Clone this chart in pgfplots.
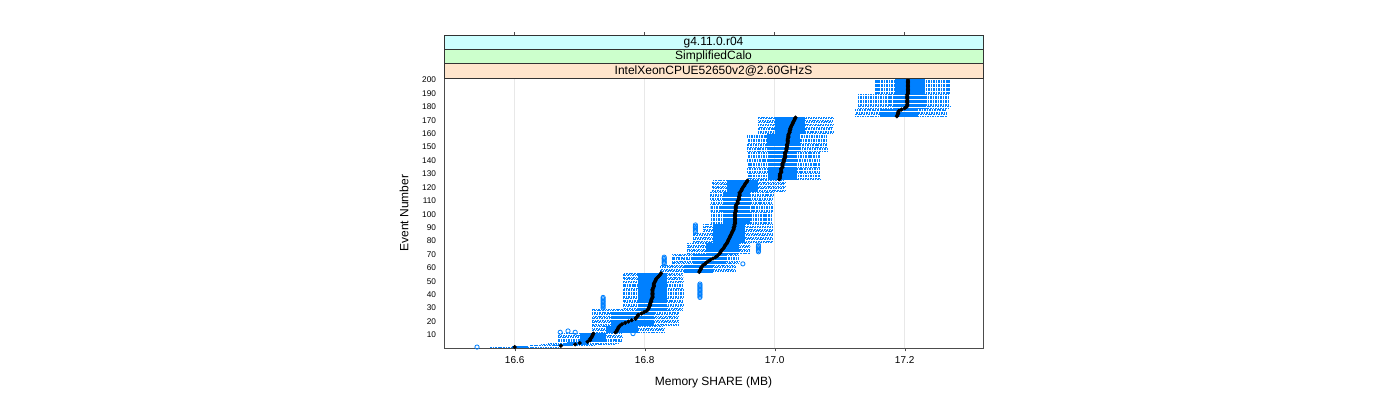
\documentclass[border=0pt]{standalone}
\usepackage{pgfplots}
\usepackage{pgfplotstable}
\pgfplotsset{compat=1.18}
\usepackage{fontspec}
\setmainfont{Liberation Sans}

\definecolor{lblue}{HTML}{0080FF}
\definecolor{stripA}{HTML}{CCFFFF}
\definecolor{stripB}{HTML}{CCFFCC}
\definecolor{stripC}{HTML}{FFE5CC}

% per event: lower whisker, lower hinge, median, upper hinge, upper whisker (MB)
\pgfplotstableread{
ev lo q1 med q3 hi
1 16.562 16.596 16.600 16.620 16.667
2 16.624 16.658 16.671 16.690 16.725
3 16.640 16.672 16.693 16.712 16.755
4 16.650 16.680 16.700 16.715 16.760
5 16.667 16.700 16.712 16.740 16.765
6 16.667 16.700 16.716 16.740 16.765
7 16.667 16.700 16.716 16.740 16.765
8 16.667 16.700 16.718 16.740 16.765
9 16.667 16.700 16.719 16.740 16.765
10 16.667 16.700 16.720 16.740 16.765
11 16.667 16.700 16.721 16.740 16.765
12 16.719 16.740 16.755 16.790 16.830
13 16.719 16.740 16.757 16.790 16.830
14 16.719 16.740 16.758 16.790 16.830
15 16.719 16.740 16.759 16.790 16.830
16 16.719 16.740 16.760 16.790 16.830
17 16.719 16.748 16.762 16.815 16.852
18 16.719 16.748 16.765 16.815 16.852
19 16.719 16.748 16.770 16.815 16.852
20 16.719 16.748 16.775 16.815 16.852
21 16.719 16.748 16.780 16.815 16.852
22 16.719 16.748 16.786 16.815 16.852
23 16.719 16.748 16.787 16.815 16.852
24 16.719 16.748 16.789 16.815 16.852
25 16.719 16.748 16.790 16.815 16.852
26 16.719 16.748 16.795 16.815 16.852
27 16.719 16.748 16.799 16.815 16.852
28 16.719 16.790 16.803 16.835 16.859
29 16.719 16.790 16.805 16.835 16.859
30 16.767 16.790 16.806 16.835 16.859
31 16.767 16.790 16.807 16.835 16.859
32 16.767 16.790 16.808 16.835 16.859
33 16.767 16.790 16.808 16.835 16.859
34 16.767 16.790 16.809 16.835 16.859
35 16.767 16.790 16.810 16.835 16.859
36 16.767 16.790 16.810 16.835 16.859
37 16.767 16.790 16.811 16.835 16.859
38 16.767 16.790 16.812 16.835 16.859
39 16.767 16.790 16.812 16.835 16.859
40 16.767 16.790 16.812 16.835 16.859
41 16.767 16.790 16.812 16.835 16.859
42 16.767 16.790 16.812 16.835 16.859
43 16.767 16.790 16.812 16.835 16.859
44 16.767 16.790 16.812 16.835 16.859
45 16.767 16.790 16.813 16.835 16.859
46 16.767 16.790 16.814 16.835 16.859
47 16.767 16.790 16.814 16.835 16.859
48 16.767 16.790 16.814 16.835 16.859
49 16.767 16.790 16.815 16.835 16.859
50 16.767 16.790 16.816 16.835 16.859
51 16.767 16.790 16.817 16.835 16.859
52 16.767 16.790 16.818 16.835 16.859
53 16.767 16.790 16.820 16.835 16.859
54 16.767 16.790 16.822 16.835 16.859
55 16.767 16.790 16.824 16.835 16.859
56 16.767 16.790 16.825 16.835 16.859
57 16.824 16.860 16.884 16.905 16.940
58 16.824 16.860 16.885 16.905 16.940
59 16.824 16.860 16.886 16.905 16.940
60 16.824 16.860 16.887 16.905 16.940
61 16.824 16.860 16.888 16.905 16.940
62 16.824 16.860 16.890 16.905 16.940
63 16.842 16.875 16.893 16.925 16.945
64 16.842 16.875 16.895 16.925 16.945
65 16.842 16.875 16.898 16.925 16.945
66 16.842 16.875 16.901 16.925 16.945
67 16.842 16.875 16.905 16.925 16.945
68 16.842 16.875 16.909 16.925 16.945
69 16.842 16.875 16.912 16.925 16.945
70 16.842 16.875 16.914 16.925 16.945
71 16.865 16.895 16.916 16.945 16.962
72 16.865 16.895 16.917 16.945 16.962
73 16.865 16.895 16.918 16.945 16.962
74 16.865 16.895 16.920 16.945 16.962
75 16.865 16.895 16.922 16.945 16.962
76 16.865 16.895 16.923 16.945 16.962
77 16.865 16.895 16.924 16.945 16.962
78 16.865 16.895 16.926 16.945 16.962
79 16.874 16.905 16.927 16.955 16.997
80 16.874 16.905 16.928 16.955 16.997
81 16.874 16.905 16.929 16.955 16.997
82 16.874 16.905 16.930 16.955 16.997
83 16.874 16.905 16.931 16.955 16.997
84 16.874 16.905 16.932 16.955 16.997
85 16.874 16.905 16.933 16.955 16.997
86 16.874 16.905 16.934 16.955 16.997
87 16.890 16.905 16.935 16.955 16.997
88 16.890 16.905 16.936 16.955 16.997
89 16.890 16.905 16.937 16.955 16.997
90 16.890 16.905 16.937 16.955 16.997
91 16.890 16.905 16.938 16.955 16.997
92 16.890 16.905 16.938 16.955 16.997
93 16.901 16.921 16.939 16.962 16.997
94 16.901 16.921 16.939 16.962 16.997
95 16.901 16.921 16.939 16.962 16.997
96 16.901 16.921 16.939 16.962 16.997
97 16.901 16.921 16.939 16.962 16.997
98 16.901 16.921 16.939 16.962 16.997
99 16.901 16.921 16.939 16.962 16.997
100 16.901 16.921 16.939 16.962 16.997
101 16.901 16.921 16.939 16.962 16.997
102 16.901 16.921 16.940 16.962 16.997
103 16.901 16.921 16.940 16.962 16.997
104 16.901 16.921 16.940 16.962 16.997
105 16.901 16.921 16.940 16.962 16.997
106 16.901 16.921 16.940 16.962 16.997
107 16.901 16.921 16.941 16.962 16.997
108 16.901 16.921 16.943 16.962 16.997
109 16.901 16.921 16.943 16.962 16.997
110 16.901 16.921 16.943 16.962 16.997
111 16.901 16.921 16.945 16.962 16.997
112 16.901 16.921 16.945 16.962 16.997
113 16.901 16.921 16.945 16.962 16.997
114 16.901 16.921 16.946 16.962 16.997
115 16.901 16.921 16.946 16.962 16.997
116 16.901 16.921 16.946 16.962 16.997
117 16.904 16.927 16.948 16.975 17.016
118 16.904 16.927 16.949 16.975 17.016
119 16.904 16.927 16.950 16.975 17.016
120 16.904 16.927 16.951 16.975 17.016
121 16.904 16.927 16.953 16.975 17.016
122 16.904 16.927 16.954 16.975 17.016
123 16.904 16.927 16.955 16.975 17.016
124 16.904 16.927 16.957 16.975 17.016
125 16.904 16.927 16.958 16.975 17.016
126 16.958 16.990 17.007 17.035 17.070
127 16.958 16.990 17.008 17.035 17.070
128 16.958 16.990 17.008 17.035 17.070
129 16.958 16.990 17.008 17.035 17.070
130 16.958 16.990 17.008 17.035 17.070
131 16.958 16.990 17.010 17.035 17.070
132 16.958 16.990 17.010 17.035 17.070
133 16.958 16.990 17.010 17.035 17.070
134 16.958 16.990 17.010 17.035 17.070
135 16.958 16.990 17.012 17.035 17.070
136 16.958 16.990 17.012 17.035 17.070
137 16.958 16.990 17.012 17.035 17.070
138 16.958 16.990 17.012 17.035 17.070
139 16.958 16.990 17.014 17.035 17.070
140 16.958 16.990 17.014 17.035 17.070
141 16.958 16.990 17.014 17.035 17.070
142 16.958 16.990 17.016 17.035 17.070
143 16.958 16.990 17.016 17.035 17.070
144 16.958 16.990 17.016 17.035 17.070
145 16.958 16.990 17.016 17.035 17.070
146 16.958 16.990 17.016 17.035 17.070
147 16.958 16.988 17.018 17.039 17.081
148 16.958 16.988 17.018 17.039 17.081
149 16.958 16.988 17.018 17.039 17.081
150 16.958 16.988 17.019 17.039 17.081
151 16.958 16.988 17.019 17.039 17.081
152 16.958 16.988 17.019 17.039 17.081
153 16.958 16.988 17.020 17.039 17.081
154 16.958 16.988 17.020 17.039 17.081
155 16.958 16.988 17.020 17.039 17.081
156 16.958 16.988 17.020 17.039 17.081
157 16.958 16.988 17.021 17.039 17.081
158 16.958 16.988 17.021 17.039 17.081
159 16.958 16.988 17.021 17.039 17.081
160 16.975 17.000 17.022 17.047 17.090
161 16.975 17.000 17.023 17.047 17.090
162 16.975 17.000 17.023 17.047 17.090
163 16.975 17.000 17.024 17.047 17.090
164 16.975 17.000 17.024 17.047 17.090
165 16.975 17.000 17.025 17.047 17.090
166 16.975 17.000 17.026 17.047 17.090
167 16.975 17.000 17.027 17.047 17.090
168 16.975 17.000 17.028 17.047 17.090
169 16.975 17.000 17.029 17.047 17.090
170 16.975 17.000 17.030 17.047 17.090
171 16.975 17.000 17.031 17.047 17.090
172 16.975 17.000 17.032 17.047 17.090
173 17.124 17.162 17.188 17.221 17.265
174 17.124 17.162 17.189 17.221 17.265
175 17.124 17.162 17.190 17.221 17.265
176 17.124 17.162 17.190 17.221 17.265
177 17.124 17.162 17.191 17.221 17.265
178 17.124 17.162 17.195 17.221 17.265
179 17.128 17.182 17.200 17.231 17.270
180 17.128 17.182 17.203 17.231 17.270
181 17.128 17.182 17.204 17.231 17.270
182 17.128 17.182 17.204 17.231 17.270
183 17.128 17.182 17.204 17.231 17.270
184 17.128 17.182 17.204 17.231 17.270
185 17.128 17.182 17.204 17.231 17.270
186 17.128 17.182 17.204 17.231 17.270
187 17.128 17.182 17.204 17.231 17.270
188 17.128 17.182 17.204 17.231 17.270
189 17.128 17.182 17.204 17.231 17.270
190 17.154 17.185 17.205 17.231 17.270
191 17.154 17.185 17.205 17.231 17.270
192 17.154 17.185 17.205 17.231 17.270
193 17.154 17.185 17.205 17.231 17.270
194 17.154 17.185 17.205 17.231 17.270
195 17.154 17.185 17.205 17.231 17.270
196 17.154 17.185 17.205 17.231 17.270
197 17.154 17.185 17.205 17.231 17.270
198 17.154 17.185 17.205 17.231 17.270
199 17.154 17.185 17.205 17.231 17.270
200 17.154 17.185 17.205 17.231 17.270
}\events

\begin{document}
\begin{tikzpicture}
\path[use as bounding box] (0,0) rectangle (1050pt,300pt);
\begin{axis}[
    at={(333pt,39pt)}, anchor=south west,
    scale only axis, width=404.25pt, height=202.5pt,
    xmin=16.4912, xmax=17.3205, ymin=0.3, ymax=201.5,
    xtick={16.6,16.8,17.0,17.2}, xticklabels={16.6,16.8,17.0,17.2},
    ytick={10,20,...,200},
    /pgf/number format/assume math mode=true,
    xtick pos=bottom, ytick pos=left,
    tick align=outside, major tick length=2.5pt,
    ytick style={draw=none},
    tick style={black!70},
    axis line style={black!70, line width=0.6pt},
    xmajorgrids, grid style={black!9, line width=0.5pt},
    xticklabel style={font=\fontsize{7.5}{8}\selectfont},
    yticklabel style={font=\fontsize{6.2}{7}\selectfont},
    xlabel={Memory SHARE (MB)}, ylabel={Event Number},
    xlabel style={font=\fontsize{9}{10}\selectfont, at={(axis description cs:0.5,0)}, anchor=center, yshift=-26pt},
    ylabel style={font=\fontsize{9}{10}\selectfont, at={(axis description cs:-0.0742,0.5)}, anchor=center},
    clip mode=individual,
]
% whiskers
\addplot[draw=none, mark=none, error bars/.cd, x dir=both, x explicit, error mark=none,
    error bar style={draw=lblue, line width=0.7pt, dash pattern=on 1.2pt off 0.7pt}]
    table[x=med, y=ev, x error plus expr=\thisrow{hi}-\thisrow{med}, x error minus expr=\thisrow{med}-\thisrow{lo}] {\events};
% boxes
\addplot[draw=none, mark=none, error bars/.cd, x dir=both, x explicit, error mark=none,
    error bar style={draw=lblue, line width=0.9pt}]
    table[x=med, y=ev, x error plus expr=\thisrow{q3}-\thisrow{med}, x error minus expr=\thisrow{med}-\thisrow{q1}] {\events};
% outliers
\addplot[only marks, mark=o, mark size=1.6pt, lblue, mark options={line width=0.6pt}] coordinates {
(16.542,1) (16.670,12) (16.682,13) (16.693,12) (16.782,11)
(16.736,30) (16.736,31) (16.736,32) (16.736,33) (16.736,34) (16.736,35) (16.736,36) (16.736,37) (16.736,38)
(16.885,38) (16.885,39) (16.885,40) (16.885,41) (16.885,42) (16.885,43) (16.885,44) (16.885,45) (16.885,46) (16.885,47) (16.885,48)
(16.830,63) (16.830,64) (16.830,65) (16.830,66) (16.830,67) (16.830,68) (16.951,63)
(16.975,72) (16.975,73) (16.975,74) (16.975,75) (16.975,76) (16.975,77)
(16.878,87) (16.878,88) (16.878,89) (16.878,90) (16.878,91) (16.878,92)
};
% medians
\addplot[only marks, mark=*, mark size=1.35pt, black] table[x=med, y=ev] {\events};

% strips
\filldraw[fill=stripC, draw=black!80, line width=0.5pt] (rel axis cs:0,1) rectangle (rel axis cs:1,1.05309);
\filldraw[fill=stripB, draw=black!80, line width=0.5pt] (rel axis cs:0,1.05309) rectangle (rel axis cs:1,1.10617);
\filldraw[fill=stripA, draw=black!80, line width=0.5pt] (rel axis cs:0,1.10617) rectangle (rel axis cs:1,1.15926);
\node[font=\fontsize{9}{10}\selectfont] at (rel axis cs:0.5,1.02654) {IntelXeonCPUE52650v2@2.60GHzS};
\node[font=\fontsize{9}{10}\selectfont] at (rel axis cs:0.5,1.07963) {SimplifiedCalo};
\node[font=\fontsize{9}{10}\selectfont] at (rel axis cs:0.5,1.13272) {g4.11.0.r04};
\draw[black!70, line width=0.5pt] (axis cs:16.6,201.5) ++(0pt,32.25pt) -- ++(0pt,2.5pt);
\draw[black!70, line width=0.5pt] (axis cs:16.8,201.5) ++(0pt,32.25pt) -- ++(0pt,2.5pt);
\draw[black!70, line width=0.5pt] (axis cs:17.0,201.5) ++(0pt,32.25pt) -- ++(0pt,2.5pt);
\draw[black!70, line width=0.5pt] (axis cs:17.2,201.5) ++(0pt,32.25pt) -- ++(0pt,2.5pt);
\end{axis}
\end{tikzpicture}
\end{document}
